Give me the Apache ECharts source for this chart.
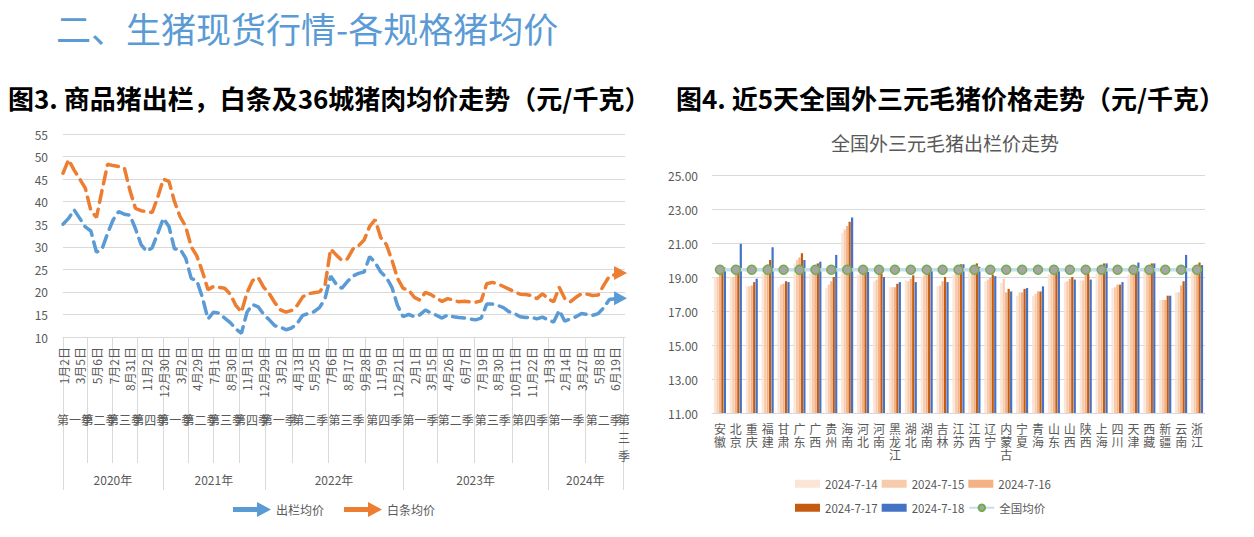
<!DOCTYPE html>
<html><head><meta charset="utf-8">
<script src="https://cdn.jsdelivr.net/npm/echarts@6/dist/echarts.min.js"></script>
<style>html,body{margin:0;padding:0;background:#fff}#c{width:1254px;height:537px}</style>
</head><body><div id="c"></div>
<script>
// ---------- Figure 3 data ----------
const dateLabels = ['1月2日','3月5日','5月6日','7月2日','8月31日','11月2日','12月30日',
  '3月2日','4月29日','7月1日','8月30日','11月1日','12月29日',
  '3月2日','4月13日','5月25日','7月6日','8月17日','9月28日','11月9日','12月21日',
  '2月1日','3月15日','4月26日','6月7日','7月19日','8月30日','10月11日','11月22日',
  '1月3日','2月14日','3月27日','5月8日','6月19日'];
const labelStep = 3; // a date label every 3rd data point
const quarterNames = ['第一季','第二季','第三季','第四季','第一季','第二季','第三季','第四季',
  '第一季','第二季','第三季','第四季','第一季','第二季','第三季','第四季','第一季','第二季','第三季'];
const quarterBounds = [0,4.3,8.8,13.4,17.9,22.4,26.9,31.6,36.2,41.2,47.5,54.2,61.0,67.2,73.7,80.5,87.0,93.6,100.4,100.8];
const yearNames = ['2020年','2021年','2022年','2023年','2024年'];
const yearBounds = [0,17.9,36.2,61.0,87.0,100.4];
const outPrice = [35,36.3,38.2,36.3,34.4,33.5,28.8,29.5,33,36,
  37.8,37.2,37,34,30.5,29,29.8,33,36.3,34.5,
  29.5,29.5,27.5,23,22.5,18.8,14,15.5,15.3,14.2,
  13.2,11.8,10.8,15.5,17.2,16.7,15,13.8,12.5,12.2,
  11.6,12,13,14.8,15.2,15.6,16.5,18.5,23.5,21.7,
  20.8,22.3,23.5,24.1,24.4,27.8,26.5,24.4,23.2,21,
  17,14.5,15,14.5,14.9,16,15.3,14.8,14.2,14.9,
  14.5,14.3,14.2,14,13.8,14.2,17.3,17.3,17,16.5,
  15.6,15.2,14.5,14.3,14.4,14,14.4,13.8,13.3,15.9,
  13.5,14,14.5,15.2,15,14.8,15.2,16.5,18.3,18.5,
  18.6];
const carcassPrice = [46.3,49.3,47,45,43,38,36.5,42.5,48.3,48,
  47.8,47.5,42.5,38.5,38,37.8,37.6,41,45,44.5,
  40,36.7,34.5,30,28,24.5,20.5,21.2,21,20.8,
  19.5,17,15.5,19.8,22.5,23.2,21,19.6,17.6,16,
  15.5,15.9,17,18.9,19.6,19.8,20,21.5,29.5,28.2,
  27,27.3,29.5,30.2,31.5,34.5,36,32,30.5,27,
  23,20.8,20.4,18.8,18.2,19.9,19.4,18.6,17.9,18.5,
  18.2,17.8,17.9,17.8,17.7,18,21.8,22.1,21.8,21.2,
  20.6,20,19.5,19.4,19.2,18.5,19.6,18.5,17.8,21,
  18.5,17.8,18.8,19.6,19.5,19.2,19.3,21.5,23.5,23.8,
  24.2];

// ---------- Figure 4 data ----------
const provinces = ['安徽','北京','重庆','福建','甘肃','广东','广西','贵州','海南','河北','河南','黑龙江','湖北','湖南','吉林','江苏','江西','辽宁','内蒙古','宁夏','青海','山东','山西','陕西','上海','四川','天津','西藏','新疆','云南','浙江'];
const dates = ['2024-7-14','2024-7-15','2024-7-16','2024-7-17','2024-7-18'];
const p0714 = [19.0,19.0,18.45,19.2,18.4,19.8,19.2,18.35,21.6,19.15,18.75,18.4,18.8,19.0,18.45,19.15,19.35,18.75,18.65,17.9,17.9,19.15,18.7,18.8,19.25,18.35,19.15,19.35,17.65,18.1,19.35];
const p0715 = [19.0,19.0,18.45,19.45,18.55,20.0,19.35,18.55,21.8,19.15,18.85,18.4,18.75,19.1,18.5,19.25,19.45,18.85,18.9,18.1,18.0,19.3,18.75,18.8,19.45,18.4,19.2,19.35,17.65,18.1,19.45];
const p0716 = [19.25,19.3,18.5,19.75,18.6,20.15,19.5,18.75,22.0,19.25,19.2,18.4,18.9,19.2,18.75,19.5,19.6,18.95,18.1,18.1,18.15,19.45,18.9,19.2,19.6,18.55,19.45,19.55,17.65,18.5,19.6];
const p0717 = [19.45,19.55,18.7,20.0,18.75,20.4,19.8,19.0,22.25,19.35,19.2,18.6,19.1,19.4,19.0,19.75,19.8,19.15,18.3,18.3,18.15,19.45,19.0,19.2,19.8,18.55,19.55,19.8,17.9,18.75,19.85];
const p0718 = [19.55,20.95,18.9,20.75,18.7,20.0,19.9,20.3,22.5,19.3,19.0,18.7,18.7,19.45,18.7,19.75,19.6,19.05,18.15,18.35,18.45,19.5,18.85,18.85,19.8,18.7,19.85,19.8,17.9,20.3,19.7];
const nationalAvg = [19.43,19.43,19.43,19.43,19.43,19.43,19.43,19.43,19.43,19.43,19.43,19.43,19.43,19.43,19.43,19.43,19.43,19.43,19.43,19.43,19.43,19.43,19.43,19.43,19.43,19.43,19.43,19.43,19.43,19.43,19.43];
const rightTicks = [11,13,15,17,19,21,23,25];

// ---------- build ----------
const FF = "'Noto Sans CJK SC','Noto Sans',sans-serif";
const GRAY = '#595959', LINE = '#d9d9d9';
const xMax = quarterBounds[quarterBounds.length - 1];
const qMids = quarterNames.map((n, i) => (quarterBounds[i] + quarterBounds[i + 1]) / 2);
const yMids = yearNames.map((n, i) => (yearBounds[i] + yearBounds[i + 1]) / 2);
const labelIdx = dateLabels.map((d, k) => k * labelStep);
const nearest = (arr, v) => { let b = 0; arr.forEach((a, i) => { if (Math.abs(a - v) < Math.abs(arr[b] - v)) b = i; }); return b; };
const ARROW = 'path://M0,5 L24,5 L24,0 L38,7.5 L24,15 L24,10 L0,10 Z';

function lineSeries(name, arr, color) {
  const last = arr.length - 1;
  return {
    type: 'line', name, xAxisIndex: 0, yAxisIndex: 0,
    data: arr.map((v, i) => i === last
      ? { value: [i, v], symbol: 'triangle', symbolSize: [14, 13], symbolRotate: -90 }
      : [i, v]),
    symbol: 'none', showSymbol: true, showAllSymbol: true,
    lineStyle: { color, width: 3.5, type: [12, 7], cap: 'round' },
    itemStyle: { color },
    emphasis: { disabled: true }
  };
}
const barColors = ['#FBE5D6', '#F8CBAD', '#F4B183', '#C55A11', '#4472C4'];
const barData = [p0714, p0715, p0716, p0717, p0718];

const valueXAxisBase = {
  type: 'value', gridIndex: 0, min: 0, max: xMax, position: 'bottom',
  splitLine: { show: false }, axisLine: { show: false, onZero: false }
};
const labelCommon = { hideOverlap: false, showMinLabel: true, showMaxLabel: true, fontSize: 12, color: GRAY, fontFamily: FF };
// quarter labels split over two label rows on the same line (even / odd) so none get auto-hidden
const quarterAxis = parity => Object.assign({}, valueXAxisBase, {
  axisTick: { show: false },
  axisLabel: Object.assign({}, labelCommon, {
    customValues: qMids.filter((m, i) => i % 2 === parity), margin: 73, lineHeight: 18,
    formatter: v => { const i = nearest(qMids, v); const n = quarterNames[i];
      return i === quarterNames.length - 1 ? n.split('').join('\n') : n; } })
});

const option = {
  animation: false,
  textStyle: { fontFamily: FF },
  title: [
    { text: '二、生猪现货行情-各规格猪均价', left: 56, top: 10, padding: 0,
      textStyle: { fontSize: 35, lineHeight: 35, fontWeight: 'normal', color: '#5B9BD5', fontFamily: FF } },
    { text: '图3. 商品猪出栏，白条及36城猪肉均价走势（元/千克）', left: 8, top: 84, padding: 0,
      textStyle: { fontSize: 26, lineHeight: 26, fontWeight: 'bold', color: '#000', fontFamily: FF } },
    { text: '图4. 近5天全国外三元毛猪价格走势（元/千克）', left: 676, top: 84, padding: 0,
      textStyle: { fontSize: 26, lineHeight: 26, fontWeight: 'bold', color: '#000', fontFamily: FF } },
    { text: '全国外三元毛猪出栏价走势', left: 945, top: 133, padding: 0, textAlign: 'center',
      textStyle: { fontSize: 19, lineHeight: 19, fontWeight: 'normal', color: GRAY, fontFamily: FF } }
  ],
  legend: [
    { left: 233, top: 502, itemWidth: 38, itemHeight: 15, itemGap: 20, padding: 0,
      textStyle: { fontSize: 12, color: GRAY, fontFamily: FF },
      data: [{ name: '出栏均价', icon: ARROW }, { name: '白条均价', icon: ARROW }] },
    { left: 795, top: 478, itemWidth: 25, itemHeight: 8, itemGap: 4, padding: 0,
      textStyle: { fontSize: 11.5, color: GRAY, fontFamily: FF },
      data: dates.slice(0, 3).map(n => ({ name: n, icon: 'rect' })) },
    { left: 795, top: 502, itemWidth: 25, itemHeight: 8, itemGap: 4, padding: 0,
      textStyle: { fontSize: 11.5, color: GRAY, fontFamily: FF },
      data: [{ name: dates[3], icon: 'rect' }, { name: dates[4], icon: 'rect' }, { name: '全国均价' }] }
  ],
  grid: [
    { left: 63, right: 1254 - 625, top: 134, bottom: 537 - 337 },
    { left: 712, right: 1254 - 1205, top: 175, bottom: 537 - 413 }
  ],
  xAxis: [
    Object.assign({}, valueXAxisBase, {
      axisLine: { show: true, onZero: false, lineStyle: { color: LINE } },
      axisTick: { show: true, customValues: quarterBounds.slice(0, -1), length: 126, lineStyle: { color: LINE } },
      axisLabel: Object.assign({}, labelCommon, { customValues: labelIdx, rotate: 90, margin: 10,
        formatter: v => dateLabels[nearest(labelIdx, v)] })
    }),
    Object.assign({}, valueXAxisBase, {
      axisTick: { show: true, customValues: yearBounds, length: 153, lineStyle: { color: LINE } },
      axisLabel: Object.assign({}, labelCommon, { customValues: yMids, margin: 136,
        formatter: v => yearNames[nearest(yMids, v)] })
    }),
    quarterAxis(0),
    quarterAxis(1),
    { type: 'category', gridIndex: 1, data: provinces,
      axisLine: { lineStyle: { color: LINE } }, axisTick: { show: false },
      axisLabel: { interval: 0, hideOverlap: false, margin: 9, fontSize: 12, lineHeight: 13, color: GRAY, fontFamily: FF,
        formatter: v => v.split('').join('\n') } }
  ],
  yAxis: [
    { type: 'value', gridIndex: 0, min: 10, max: 55, interval: 5,
      axisLine: { show: false }, axisTick: { show: false },
      splitLine: { lineStyle: { color: LINE } },
      axisLabel: { margin: 15, fontSize: 12, color: GRAY, fontFamily: FF } },
    { type: 'value', gridIndex: 1, min: rightTicks[0], max: rightTicks[rightTicks.length - 1], interval: 1,
      axisLine: { show: false }, axisTick: { show: false },
      splitLine: { lineStyle: { color: [LINE, 'rgba(0,0,0,0)'] } },
      axisLabel: { margin: 14, fontSize: 12, color: GRAY, fontFamily: FF,
        formatter: v => rightTicks.includes(v) ? v.toFixed(2) : '' } }
  ],
  series: [
    lineSeries('出栏均价', outPrice, '#5B9BD5'),
    lineSeries('白条均价', carcassPrice, '#ED7D31'),
    ...dates.map((d, k) => ({
      type: 'bar', name: d, xAxisIndex: 4, yAxisIndex: 1, data: barData[k],
      itemStyle: { color: barColors[k] }, barGap: '12%', barCategoryGap: '24%',
      emphasis: { disabled: true }
    })),
    { type: 'line', name: '全国均价', xAxisIndex: 4, yAxisIndex: 1, data: nationalAvg,
      symbol: 'circle', symbolSize: 9, z: 5,
      lineStyle: { color: '#C9DBF0', width: 3.5 },
      itemStyle: { color: '#A5A5A5', borderColor: '#70AD47', borderWidth: 1.5 },
      emphasis: { disabled: true } }
  ]
};
const chart = echarts.init(document.getElementById('c'), null, { renderer: 'svg' });
chart.setOption(option);
</script>
</body></html>
